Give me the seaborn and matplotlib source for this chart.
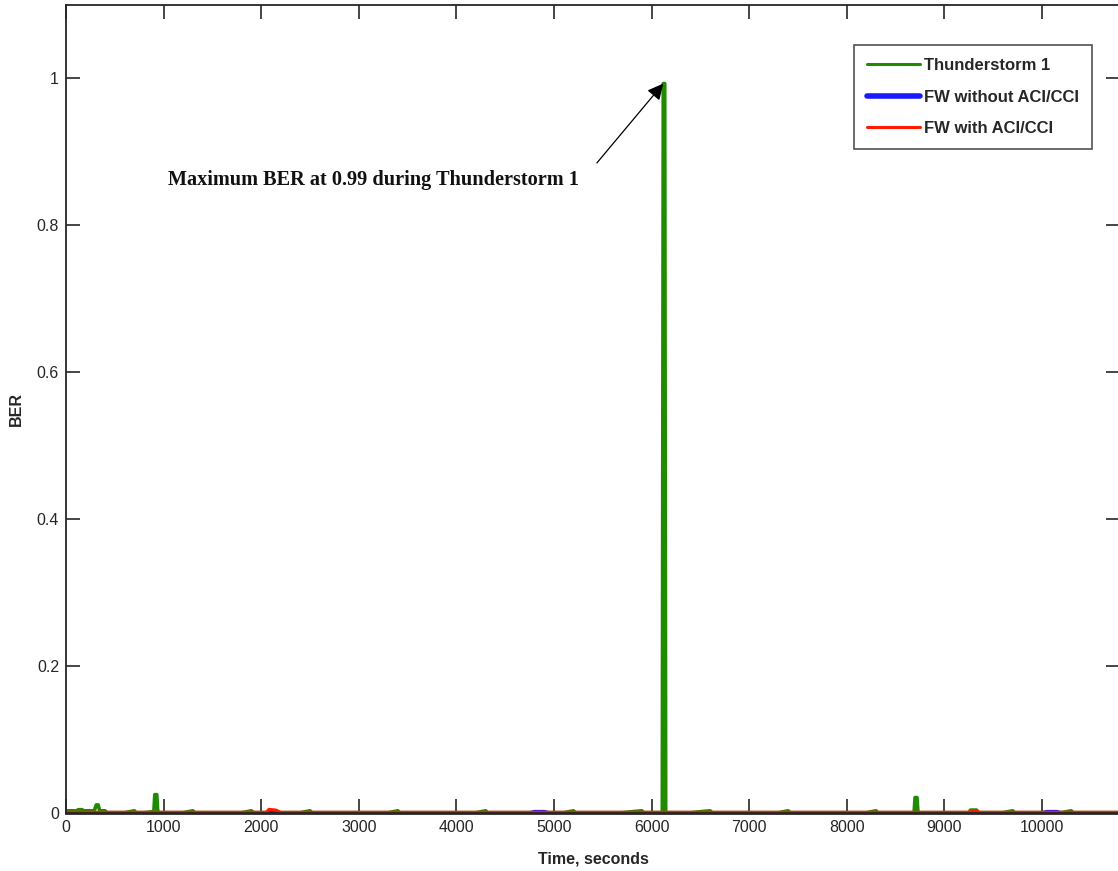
import matplotlib
matplotlib.use("Agg")
import matplotlib.pyplot as plt
import seaborn as sns
import pandas as pd

# ---------------- data ----------------
green_time = [0, 60, 70, 110, 125, 165, 180, 290, 310, 330, 345, 360, 390, 400,
              420, 600, 700, 720, 800, 900, 910, 930, 940, 965, 1200, 1300, 1320,
              1500, 1800, 1900, 1920, 2100, 2400, 2500, 2520, 2700, 3000, 3300,
              3400, 3420, 3600, 3900, 4200, 4300, 4320, 4500, 4800, 5100, 5200,
              5220, 5400, 5700, 5900, 5920, 6000, 6110, 6120, 6135, 6145, 6400,
              6600, 6620, 6700, 7000, 7300, 7400, 7420, 7600, 7900, 8200, 8300,
              8320, 8500, 8690, 8700, 8720, 8730, 9000, 9250, 9270, 9330, 9350,
              9600, 9700, 9720, 9900, 10200, 10300, 10320, 10500, 10800]
green_ber = [0.003, 0.003, 0.003, 0.003, 0.0045, 0.0045, 0.003, 0.003, 0.011,
             0.011, 0.003, 0.003, 0.003, 0.003, 0.0005, 0.0005, 0.003, 0.0005,
             0.0005, 0.002, 0.025, 0.025, 0.002, 0.0005, 0.0005, 0.003, 0.0005,
             0.0005, 0.0005, 0.003, 0.0005, 0.0005, 0.0005, 0.003, 0.0005, 0.0005,
             0.0005, 0.0005, 0.003, 0.0005, 0.0005, 0.0005, 0.0005, 0.003, 0.0005,
             0.0005, 0.0005, 0.0005, 0.003, 0.0005, 0.0005, 0.0005, 0.003, 0.0005,
             0.0005, 0.0005, 0.993, 0.993, 0.0005, 0.0005, 0.003, 0.0005, 0.0005,
             0.0005, 0.0005, 0.003, 0.0005, 0.0005, 0.0005, 0.0005, 0.003, 0.0005,
             0.0005, 0.0005, 0.021, 0.021, 0.0005, 0.0005, 0.0005, 0.004, 0.004,
             0.0005, 0.0005, 0.003, 0.0005, 0.0005, 0.0005, 0.003, 0.0005, 0.0005,
             0.0005]

blue_time = [0, 1000, 2000, 3000, 4000, 4750, 4800, 4900, 4950, 6000, 7000, 8000,
             9000, 10000, 10050, 10150, 10200, 10800]
blue_ber = [0.0003, 0.0003, 0.0003, 0.0003, 0.0003, 0.0003, 0.002, 0.002, 0.0003,
            0.0003, 0.0003, 0.0003, 0.0003, 0.0003, 0.002, 0.002, 0.0003, 0.0003]

red_time = [0, 500, 1000, 1500, 2000, 2050, 2080, 2150, 2200, 2600, 3000, 3500,
            4000, 4500, 5000, 5500, 6000, 6500, 7000, 7500, 8000, 8500, 9000, 9250,
            9280, 9330, 9360, 9800, 10300, 10800]
red_ber = [0.001, 0.001, 0.001, 0.001, 0.001, 0.001, 0.005, 0.004, 0.001, 0.001,
           0.001, 0.001, 0.001, 0.001, 0.001, 0.001, 0.001, 0.001, 0.001, 0.001,
           0.001, 0.001, 0.001, 0.001, 0.003, 0.003, 0.001, 0.001, 0.001, 0.001]

series_names = ["Thunderstorm 1", "FW without ACI/CCI", "FW with ACI/CCI"]
x_ticks = [0, 1000, 2000, 3000, 4000, 5000, 6000, 7000, 8000, 9000, 10000]
y_ticks = [0, 0.2, 0.4, 0.6, 0.8, 1.0]
y_tick_labels = ["0", "0.2", "0.4", "0.6", "0.8", "1"]
annotation_text = "Maximum BER at 0.99 during Thunderstorm 1"

# ---------------- figure ----------------
sns.set_theme(style="white")
plt.rcParams["font.family"] = ["Liberation Sans", "DejaVu Sans"]

fig = plt.figure(figsize=(11.18, 8.71), dpi=100)
ax = fig.add_axes([66 / 1118, (871 - 813) / 871, (1120 - 66) / 1118, (813 - 5) / 871])

frames = [
    pd.DataFrame({"time": green_time, "ber": green_ber, "series": series_names[0]}),
    pd.DataFrame({"time": blue_time, "ber": blue_ber, "series": series_names[1]}),
    pd.DataFrame({"time": red_time, "ber": red_ber, "series": series_names[2]}),
]
colors = ["#1f8c00", "#1a1aff", "#ff1a00"]
widths = [2.6, 2.4, 2.2]
for df, c, w in zip(frames, colors, widths):
    sns.lineplot(data=df, x="time", y="ber", ax=ax, color=c, linewidth=w,
                 label=df["series"].iloc[0], estimator=None, sort=False)

ax.set_xlim(0, 10800)
ax.set_ylim(0, 1.1)
ax.set_xticks(x_ticks)
ax.set_xticklabels([str(t) for t in x_ticks])
ax.set_yticks(y_ticks)
ax.set_yticklabels(y_tick_labels)
ax.tick_params(axis="both", which="both", direction="in", length=10, width=1.2,
               top=True, right=True, bottom=True, left=True, labelsize=11.5,
               colors="#262626", labelcolor="#262626", pad=5)
for s in ax.spines.values():
    s.set_visible(True)
    s.set_color("#262626")
    s.set_linewidth(1.3)
ax.spines["bottom"].set_linewidth(2.0)

ax.set_xlabel("Time, seconds", fontsize=11.5, fontweight="bold", labelpad=12)
ax.set_ylabel("BER", fontsize=11.5, fontweight="bold", labelpad=9)
ax.grid(False)

# annotation pointing at the peak
peak_i = max(range(len(green_ber)), key=lambda i: green_ber[i])
peak_x = green_time[peak_i]
peak_y = green_ber[peak_i]
ax.annotate("", xy=(peak_x, peak_y), xytext=(5440, 0.885),
            arrowprops=dict(arrowstyle="-|>", color="black", lw=0.9,
                            mutation_scale=24, shrinkA=0, shrinkB=0))
ax.text(1045, 0.862, annotation_text, fontsize=14.6, fontweight="bold",
        family=["Liberation Serif", "DejaVu Serif"], ha="left", va="center",
        color="#111111")

leg = ax.legend(loc="upper right", bbox_to_anchor=((1092 - 66) / (1120 - 66), (813 - 45) / 808),
                fontsize=12, frameon=True, fancybox=False, edgecolor="#262626",
                borderpad=0.8, labelspacing=0.98, handlelength=3.2, handletextpad=0.2,
                borderaxespad=0)
leg.get_frame().set_linewidth(1.2)
for t in leg.get_texts():
    t.set_fontweight("bold")
for h, w in zip(leg.get_lines(), [2.2, 4, 2.2]):
    h.set_linewidth(w)

fig.savefig("out.png", dpi=100)
